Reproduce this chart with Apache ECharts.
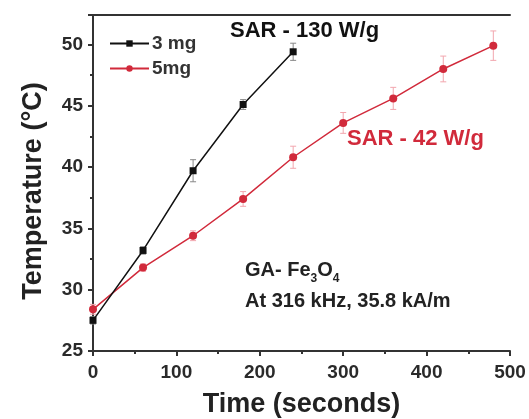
<!DOCTYPE html>
<html>
<head>
<meta charset="utf-8">
<script src="https://cdn.jsdelivr.net/npm/echarts@6/dist/echarts.min.js"></script>
<style>
  html, body { margin: 0; padding: 0; background: #fff; }
  #main { width: 529px; height: 419px; }
</style>
</head>
<body>
<div id="main"></div>
<script>
// time points (s)
var time3 = [0, 60, 120, 180, 240];
var time5 = [0, 60, 120, 180, 240, 300, 360, 420, 480];
// temperatures (°C)
var temp3 = [27.5, 33.2, 39.7, 45.1, 49.4];
var err3 = [0.3, 0.3, 0.9, 0.4, 0.7];
var temp5 = [28.4, 31.8, 34.4, 37.4, 40.8, 43.6, 45.6, 48.0, 49.9];
var err5 = [0.4, 0.3, 0.4, 0.6, 0.9, 0.85, 0.9, 1.05, 1.2];
var seriesNames = ['3 mg', '5mg'];

var FONT = "'Liberation Sans', Arial, sans-serif";
var RED = '#d12a3b';
var BLACK = '#111';

function pairs(xs, ys) {
    var out = [];
    for (var i = 0; i < xs.length; i++) out.push([xs[i], ys[i]]);
    return out;
}
function errRows(xs, ys, es) {
    var out = [];
    for (var i = 0; i < xs.length; i++) out.push([xs[i], ys[i] - es[i], ys[i] + es[i]]);
    return out;
}
function errorBar(color) {
    return function (params, api) {
        var lo = api.coord([api.value(0), api.value(1)]);
        var hi = api.coord([api.value(0), api.value(2)]);
        var w = 3;
        var st = { stroke: color, lineWidth: 1 };
        return {
            type: 'group',
            children: [
                { type: 'line', shape: { x1: lo[0], y1: lo[1], x2: hi[0], y2: hi[1] }, style: st },
                { type: 'line', shape: { x1: lo[0] - w, y1: lo[1], x2: lo[0] + w, y2: lo[1] }, style: st },
                { type: 'line', shape: { x1: hi[0] - w, y1: hi[1], x2: hi[0] + w, y2: hi[1] }, style: st }
            ]
        };
    };
}

var myChart = echarts.init(document.getElementById('main'));
var axisColor = '#333';
var option = {
    animation: false,
    backgroundColor: '#fff',
    textStyle: { fontFamily: FONT },
    grid: { left: 93, right: 19, top: 15, bottom: 68, outerBoundsMode: 'none', containLabel: false },
    legend: {
        orient: 'vertical',
        left: 104,
        top: 29,
        itemWidth: 39,
        itemHeight: 8,
        itemGap: 6,
        data: seriesNames,
        textStyle: { fontFamily: FONT, fontSize: 19, fontWeight: 'bold', color: '#333', padding: [0, 0, 0, -2] }
    },
    xAxis: [{
        type: 'value',
        min: 0, max: 500, interval: 100,
        name: 'Time (seconds)',
        nameLocation: 'middle',
        nameGap: 40,
        nameTextStyle: { fontFamily: FONT, fontSize: 27, fontWeight: 'bold', color: '#222' },
        axisLine: { lineStyle: { color: axisColor, width: 2 } },
        axisTick: { inside: false, length: 5, lineStyle: { color: axisColor, width: 2 } },
        minorTick: { show: true, splitNumber: 2, length: 3, lineStyle: { color: axisColor, width: 2 } },
        axisLabel: { fontFamily: FONT, fontSize: 19, fontWeight: 'bold', color: '#2a2a2a', margin: 12 },
        splitLine: { show: false }
    }, {
        type: 'value', position: 'top', min: 0, max: 500,
        axisLine: { show: true, lineStyle: { color: axisColor, width: 2 } },
        axisTick: { show: false }, axisLabel: { show: false }, splitLine: { show: false }
    }],
    yAxis: [{
        type: 'value',
        min: 25, max: 52.4, interval: 5,
        name: 'Temperature (\u00B0C)',
        nameLocation: 'middle',
        nameGap: 46,
        nameTextStyle: { fontFamily: FONT, fontSize: 27, fontWeight: 'bold', color: '#222', padding: [0, 16, 0, 0] },
        axisLine: { show: true, lineStyle: { color: axisColor, width: 2 } },
        axisTick: { inside: false, length: 5, lineStyle: { color: axisColor, width: 2 } },
        minorTick: { show: true, splitNumber: 2, length: 3, lineStyle: { color: axisColor, width: 2 } },
        axisLabel: { fontFamily: FONT, fontSize: 19, fontWeight: 'bold', color: '#2a2a2a', margin: 10, showMaxLabel: false },
        splitLine: { show: false }
    }, {
        type: 'value', position: 'right', min: 25, max: 52.4,
        axisLine: { show: true, lineStyle: { color: axisColor, width: 2 } },
        axisTick: { show: false }, axisLabel: { show: false }, splitLine: { show: false }
    }],
    series: [
        {
            name: '5mg', type: 'line', data: pairs(time5, temp5),
            symbol: 'circle', symbolSize: 8,
            lineStyle: { color: RED, width: 1.5 },
            itemStyle: { color: RED }, z: 3
        },
        {
            name: '3 mg', type: 'line', data: pairs(time3, temp3),
            symbol: 'rect', symbolSize: 7,
            lineStyle: { color: BLACK, width: 1.5 },
            itemStyle: { color: BLACK }, z: 4
        },
        {
            name: '3 mg error', type: 'custom', renderItem: errorBar('#888'),
            data: errRows(time3, temp3, err3), encode: { x: 0, y: [1, 2] }, z: 1, silent: true
        },
        {
            name: '5mg error', type: 'custom', renderItem: errorBar('#f2a6ae'),
            data: errRows(time5, temp5, err5), encode: { x: 0, y: [1, 2] }, z: 1, silent: true
        }
    ],
    graphic: [
        {
            type: 'text', left: 230, top: 20,
            style: { text: 'SAR - 130 W/g', font: 'bold 22px ' + FONT, fill: '#111' }
        },
        {
            type: 'text', left: 347, top: 128,
            style: { text: 'SAR - 42 W/g', font: 'bold 22px ' + FONT, fill: RED }
        },
        {
            type: 'text', left: 245, top: 260,
            style: {
                text: 'GA- Fe{sub|3}O{sub|4}',
                font: 'bold 20px ' + FONT, fill: '#222',
                rich: { sub: { fontSize: 12, fontWeight: 'bold', fontFamily: FONT, verticalAlign: 'bottom', lineHeight: 30, fill: '#222' } }
            }
        },
        {
            type: 'text', left: 245, top: 291,
            style: { text: 'At 316 kHz, 35.8 kA/m', font: 'bold 20px ' + FONT, fill: '#222' }
        }
    ]
};
myChart.setOption(option);
</script>
</body>
</html>
